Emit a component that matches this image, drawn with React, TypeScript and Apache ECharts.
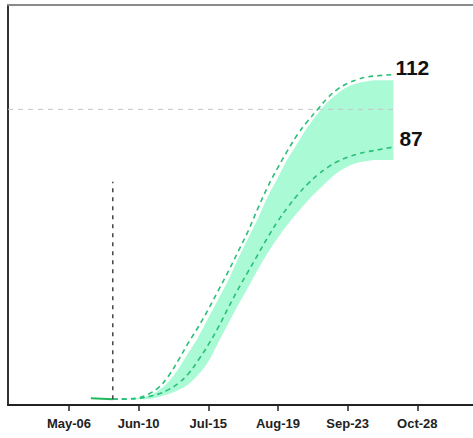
import React, { useEffect, useRef } from "react";
import * as echarts from "echarts";

// x values are days counted from May-06
const tickDays = [0, 35, 70, 105, 140, 175];
const tickLabels = ["May-06", "Jun-10", "Jul-15", "Aug-19", "Sep-23", "Oct-28"];

const observedDays = [11, 22];
const observedValues = [0.3, 0];

const projDays = [22, 30, 35, 40, 45, 50, 55, 60, 65, 70, 75, 80, 85, 90, 95, 100, 105, 110, 115, 120, 125, 130, 135, 140, 145, 150, 155, 163];
const upperProj = [0, 0.1, 0.5, 1.8, 4, 8, 13.5, 19.5, 25, 31, 37.5, 44, 51, 58, 66, 73.5, 80, 86, 91.5, 96, 100, 104, 107, 109, 110.3, 111.2, 111.6, 112];
const lowerProj = [0, 0.1, 0.3, 0.9, 1.8, 3.3, 5.5, 8.8, 13.5, 18.8, 24.8, 31.5, 38, 44, 50, 56, 61.5, 66.3, 70.6, 74.3, 77.4, 80, 82, 83.5, 84.6, 85.4, 86, 87];

const bandDays = [30, 35, 40, 45, 50, 55, 60, 65, 70, 75, 80, 85, 90, 95, 100, 105, 110, 115, 120, 125, 130, 135, 140, 145, 150, 155, 160, 163];
const bandUpper = [0, 0.5, 1.2, 3, 6, 10.5, 16, 21.5, 28, 34.5, 41, 48.5, 55.5, 62.5, 70, 76.5, 83, 88.5, 94, 98.5, 102.5, 105.5, 107.8, 109, 109.7, 110, 110, 110];
const bandLower = [0, 0, 0.1, 0.8, 1.8, 3.2, 5.2, 8.5, 13, 19.5, 26, 32.5, 38.5, 44.8, 50.6, 55.8, 60.4, 64.6, 68.5, 72, 75.3, 78.2, 80.3, 81.6, 82.2, 82.5, 82.5, 82.5];

const todayDay = 22;
const todayLineTop = 75;
const referenceValue = 100;
const xMin = -30.65;
const xMax = 203;
const yMin = -2;
const yMax = 136;

const pair = (xs: number[], ys: number[]) => xs.map((x, i) => [x, ys[i]]);
// value first, day second: the stacked dimension must be the value
const pairYX = (xs: number[], ys: number[]) => xs.map((x, i) => [ys[i], x]);

export default function App() {
  const ref = useRef<HTMLDivElement>(null);
  useEffect(() => {
    document.body.style.margin = "0";
    const chart = echarts.init(ref.current!, null, { renderer: "svg" });
    const font = "Liberation Sans";
    const dashGreen = "#29c077";
    const option: any = {
      animation: false,
      grid: { left: 8, right: 0, top: 5, bottom: 33, containLabel: false },
      xAxis: [
        {
          type: "value",
          min: xMin,
          max: xMax,
          axisLine: { show: true, onZero: false, lineStyle: { color: "#222", width: 2 } },
          axisTick: { show: true, customValues: tickDays, length: 6, lineStyle: { color: "#222", width: 1.5 } },
          axisLabel: {
            customValues: tickDays,
            formatter: (v: number) => {
              const i = tickDays.indexOf(v);
              return i >= 0 ? tickLabels[i] : "";
            },
            margin: 12,
            fontSize: 13,
            fontWeight: "bold",
            color: "#222",
            fontFamily: font,
          },
          splitLine: { show: false },
        },
        {
          type: "value",
          position: "top",
          min: xMin,
          max: xMax,
          axisLine: { show: true, onZero: false, lineStyle: { color: "#8a8a8a", width: 2 } },
          axisTick: { show: false },
          axisLabel: { show: false },
          splitLine: { show: false },
        },
      ],
      yAxis: {
        type: "value",
        min: yMin,
        max: yMax,
        axisLine: { show: true, onZero: false, lineStyle: { color: "#333", width: 2 } },
        axisTick: { show: false },
        axisLabel: { show: false },
        splitLine: { show: false },
      },
      series: [
        {
          type: "line",
          stack: "band",
          encode: { x: 1, y: 0 },
          data: pairYX(bandDays, bandLower),
          symbol: "none",
          smooth: 0.4,
          lineStyle: { opacity: 0 },
          silent: true,
          z: 1,
        },
        {
          type: "line",
          stack: "band",
          encode: { x: 1, y: 0 },
          data: pairYX(bandDays, bandUpper.map((u, i) => u - bandLower[i])),
          symbol: "none",
          smooth: 0.4,
          lineStyle: { opacity: 0 },
          areaStyle: { color: "#aafad6", opacity: 1 },
          silent: true,
          z: 1,
        },
        {
          type: "line",
          data: [[xMin, referenceValue], [projDays[projDays.length - 1], referenceValue]],
          symbol: "none",
          lineStyle: { color: "#c4c4c4", width: 1, type: [5, 5] },
          z: 2,
        },
        {
          type: "line",
          data: pair(projDays, upperProj),
          symbol: "none",
          smooth: 0.4,
          lineStyle: { color: dashGreen, width: 1.6, type: [5, 4] },
          endLabel: {
            show: true,
            formatter: (p: any) => String(p.value[1]),
            distance: 2,
            offset: [0, -7],
            fontSize: 21,
            fontWeight: "bold",
            color: "#111",
            fontFamily: font,
          },
          z: 3,
        },
        {
          type: "line",
          data: pair(projDays, lowerProj),
          symbol: "none",
          smooth: 0.4,
          lineStyle: { color: dashGreen, width: 1.6, type: [5, 4] },
          endLabel: {
            show: true,
            formatter: (p: any) => String(p.value[1]),
            distance: 6,
            offset: [0, -9],
            fontSize: 21,
            fontWeight: "bold",
            color: "#111",
            fontFamily: font,
          },
          z: 3,
        },
        {
          type: "line",
          data: pair(observedDays, observedValues),
          symbol: "none",
          lineStyle: { color: "#22b85e", width: 2 },
          z: 4,
        },
        {
          type: "line",
          data: [[todayDay, 0], [todayDay, todayLineTop]],
          symbol: "none",
          lineStyle: { color: "#444", width: 1.5, type: [4, 5] },
          z: 4,
        },
      ],
    };
    chart.setOption(option);
    return () => chart.dispose();
  }, []);
  return <div ref={ref} style={{ width: 473, height: 438 }} />;
}
